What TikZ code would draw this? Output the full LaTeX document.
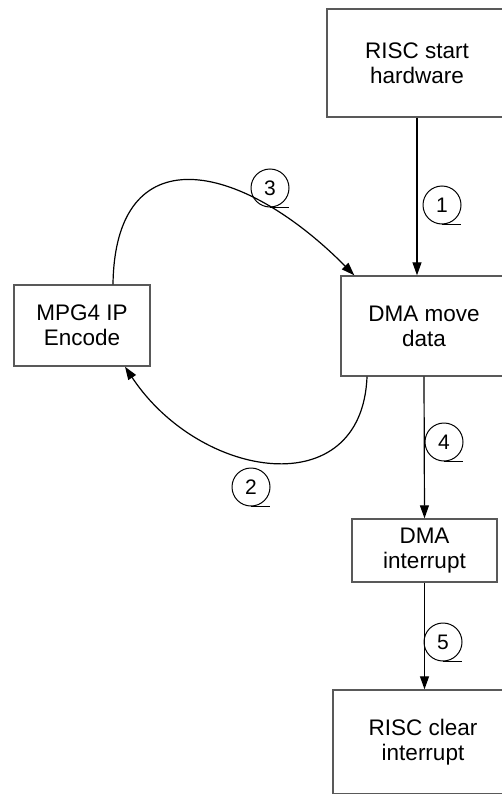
\documentclass[tikz,border=0pt]{standalone}
\usepackage{fontspec}
\setmainfont{Liberation Sans}
\usetikzlibrary{arrows.meta}

\begin{document}
\begin{tikzpicture}[
  x=1bp, y=-1bp,
  box/.style={draw=black!65, line width=1.4bp, align=center, inner sep=0pt,
              font=\fontsize{22.5bp}{25bp}\selectfont},
  num/.style={circle, draw, line width=1bp, minimum size=38bp, inner sep=0pt,
              font=\fontsize{21bp}{21bp}\selectfont},
  arr/.style={-{Triangle[length=13bp, width=9bp]}, line width=1.2bp},
  tail/.style={line width=1.2bp},
]
\useasboundingbox (0,0) rectangle (502,794);
% process boxes (the right column runs off the page)
\node[box, minimum width=180bp, minimum height=108bp] (start) at (417,63) {RISC start\\hardware};
\node[box, minimum width=166bp, minimum height=100bp] (move) at (424,326) {DMA move\\data};
\node[box, minimum width=136bp, minimum height=81bp] (mpg) at (82,325.5) {MPG4 IP\\Encode};
\node[box, minimum width=145bp, minimum height=63bp] (dmaint) at (424.5,550.5) {DMA\\interrupt};
\node[box, minimum width=180bp, minimum height=104bp] (clear) at (423,742) {RISC clear\\interrupt};
% flow
\draw[arr] (start.south) -- (start.south |- move.north);
\draw[arr] ([xshift=-57bp]move.south) .. controls (362,505) and (200,480) .. ([xshift=43bp]mpg.south);
\draw[arr] ([xshift=31bp]mpg.north) .. controls (115,135) and (240,160) .. ([xshift=14bp]move.north west);
\draw[arr] (move.south) -- (dmaint.north);
\draw[arr] (dmaint.south) -- (dmaint.south |- clear.north);
% step numbers
\node[num] (c1) at (442,205) {1};
\node[num] (c2) at (251,487) {2};
\node[num] (c3) at (270,188) {3};
\node[num] (c4) at (444,442) {4};
\node[num] (c5) at (443,642) {5};
\foreach \c in {c1,c2,c3,c4,c5}
  \draw[tail] (\c.south) -- ++(19,0);
\end{tikzpicture}
\end{document}
